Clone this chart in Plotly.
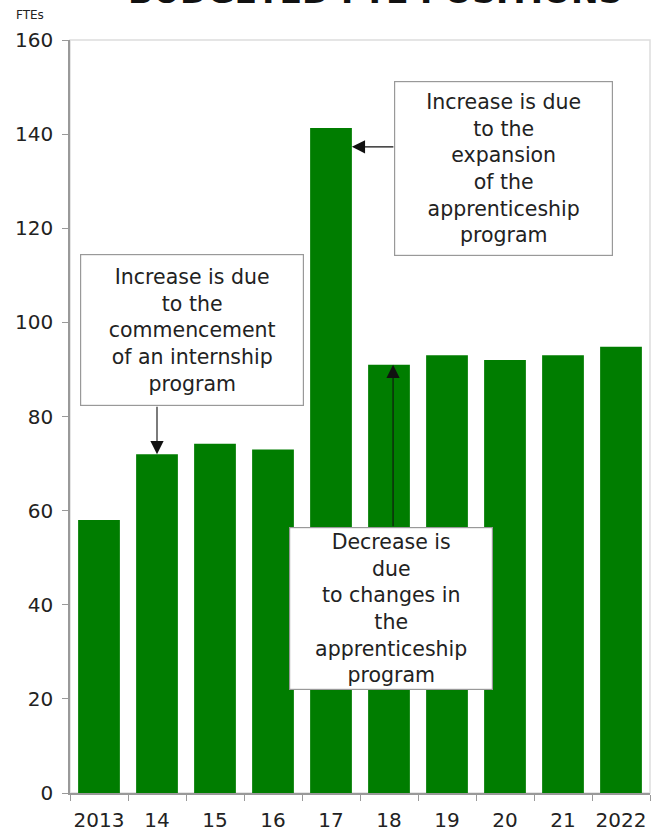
import plotly.graph_objects as go

years = ["2013", "14", "15", "16", "17", "18", "19", "20", "21", "2022"]
ftes = [58, 72, 74.2, 73, 141.3, 91, 93, 92, 93, 94.8]
y_ticks = [0, 20, 40, 60, 80, 100, 120, 140, 160]

title_text = "BUDGETED FTE POSITIONS"
note_internship = "Increase is due<br>to the<br>commencement<br>of an internship<br>program"
note_expansion = "Increase is due<br>to the<br>expansion<br>of the<br>apprenticeship<br>program"
note_decrease = "Decrease is<br>due<br>to changes in<br>the<br>apprenticeship<br>program"

FONT = "DejaVu Sans"
GREEN = "#007d00"
BARGAP = 0.28

fig = go.Figure(go.Bar(x=years, y=ftes, marker=dict(color=GREEN, line=dict(width=0))))

fig.update_layout(
    width=659, height=833,
    margin=dict(l=70, r=9, t=40, b=40, autoexpand=False),
    paper_bgcolor="white", plot_bgcolor="white",
    bargap=BARGAP, showlegend=False,
    font=dict(family=FONT, color="#222"),
)
fig.update_xaxes(
    type="category", tickson="boundaries", ticks="outside", ticklen=6,
    tickcolor="#999", showline=True, linecolor="#999", linewidth=1.5,
    showgrid=False, tickangle=0, automargin=False, ticklabelstandoff=8,
    tickfont=dict(size=20, family=FONT, color="#222"),
)
fig.update_yaxes(
    range=[0, 160], tickvals=y_ticks, ticks="outside", ticklen=6,
    tickcolor="#999", showline=True, linecolor="#999", linewidth=1.5,
    showgrid=False, zeroline=False, automargin=False, ticklabelstandoff=5,
    tickfont=dict(size=20, family=FONT, color="#222"),
)

# light frame top/right
fig.add_shape(type="rect", xref="paper", yref="paper", x0=0, x1=1, y0=0, y1=1,
              line=dict(color="#dddddd", width=1.5), layer="below")

ann = []
ann.append(dict(text="<b>" + title_text + "</b>", xref="paper", yref="paper",
                x=0.526, y=1.065, xanchor="center", yanchor="middle", showarrow=False,
                font=dict(size=33, family=FONT, color="#111")))
ann.append(dict(text="FTEs", xref="paper", yref="paper", x=-0.069, y=1.033,
                xanchor="center", yanchor="middle", showarrow=False,
                font=dict(size=12, family=FONT, color="#222")))

box = dict(xref="paper", yref="paper", showarrow=False, bgcolor="white",
           bordercolor="#999", borderwidth=1.2, borderpad=0,
           font=dict(size=20.5, family=FONT, color="#222"), align="center",
           xanchor="center", yanchor="middle")
ann.append(dict(box, text=note_internship, x=0.21, y=0.6155, width=222, height=150))
ann.append(dict(box, text=note_expansion, x=0.748, y=0.8287, width=217, height=173))
ann.append(dict(box, text=note_decrease, x=0.554, y=0.245, width=202, height=161))

arrow = dict(text="", showarrow=True, arrowhead=2, arrowsize=2.4, arrowwidth=1.1,
             arrowcolor="#111", standoff=0, xref="x", yref="y")
ann.append(dict(arrow, x=1, y=ftes[1], ax=0, ay=-49))
ann.append(dict(arrow, x=4 + (1 - BARGAP) / 2, y=137.3, ax=43, ay=0))
ann.append(dict(arrow, x=5.07, y=ftes[5], ax=0, ay=163))

fig.update_layout(annotations=ann)
fig.write_html(
    "out.html",
    config={"displayModeBar": False},
    post_script="document.body.style.margin='0';document.body.style.padding='0';",
)
